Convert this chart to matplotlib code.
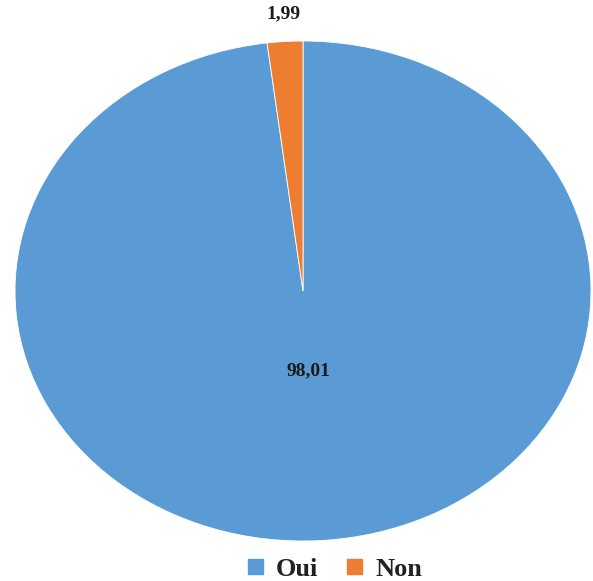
import matplotlib
matplotlib.use("Agg")
import matplotlib.pyplot as plt
import numpy as np

categories = ["Oui", "Non"]
values = [98.01, 1.99]
colors = ["#5B9BD5", "#ED7D31"]

plt.rcParams['font.family'] = ['Liberation Serif', 'DejaVu Serif']

fig = plt.figure(figsize=(5.93, 5.81), dpi=100)
ax = fig.add_axes([15/593, 40/581, 576/593, 500/581])

wedges, _ = ax.pie(values, colors=colors, startangle=90, counterclock=False,
                   radius=1.0, wedgeprops=dict(edgecolor="white", linewidth=0.6))
ax.set_aspect('auto')
ax.set_xlim(-1, 1)
ax.set_ylim(-1, 1)
ax.axis('off')

label_r = [0.32, 1.11]
for w, v, r in zip(wedges, values, label_r):
    mid = np.deg2rad((w.theta1 + w.theta2) / 2)
    ax.text(r * np.cos(mid), r * np.sin(mid), f"{v:.2f}".replace('.', ','),
            ha='center', va='center', fontsize=14, fontweight='bold', color='#1a1a1a',
            clip_on=False)

handles = [plt.Rectangle((0, 0), 1, 1, color=c) for c in colors]
fig.legend(handles, categories, loc='center', bbox_to_anchor=(0.565, 0.02),
           ncol=2, frameon=False, prop=dict(size=19, weight='bold'),
           handlelength=0.55, handleheight=0.55,
           handletextpad=0.5, columnspacing=1.1, labelcolor='#222222')

fig.savefig("out.png", dpi=100)
